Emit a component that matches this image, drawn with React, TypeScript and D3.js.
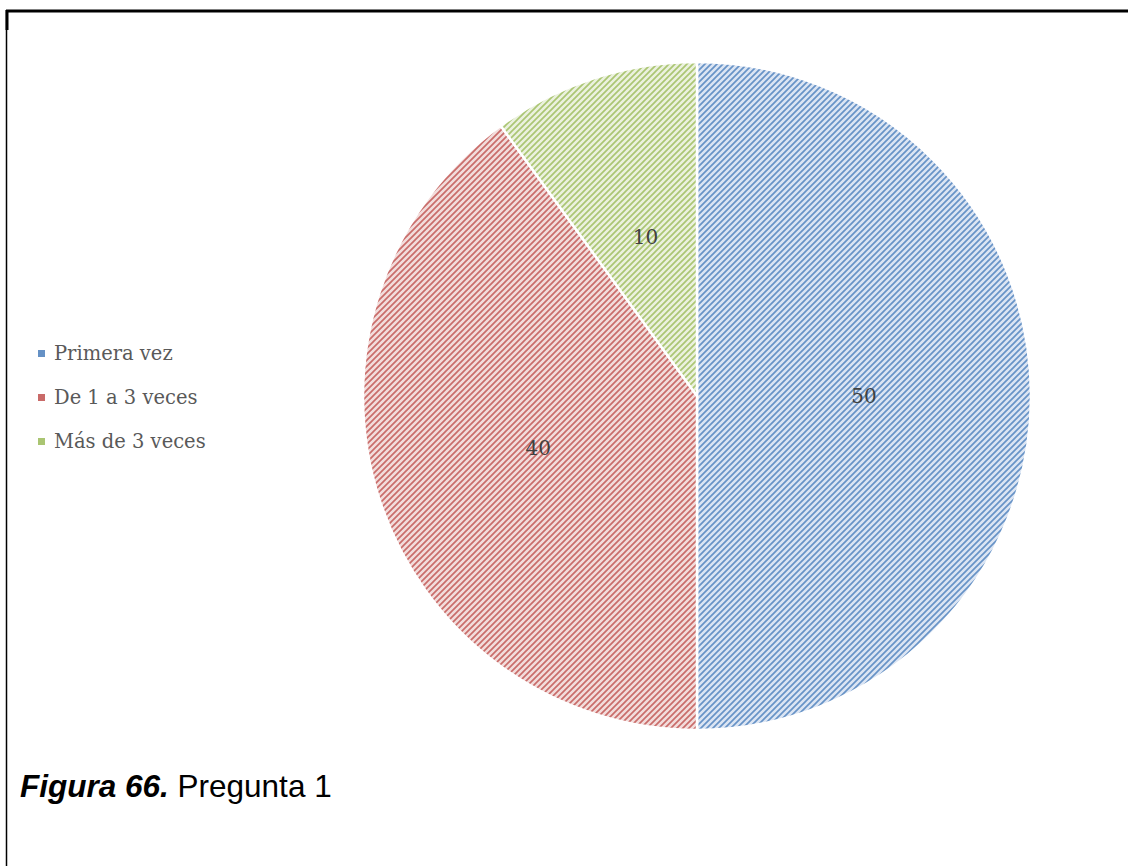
import React from "react";
import * as d3 from "d3";

const categories = ["Primera vez", "De 1 a 3 veces", "Más de 3 veces"];
const values = [50, 40, 10];
const darkColors = ["#4a7ebb", "#c0504d", "#9bbb59"];
const lightColors = ["#dbe5f3", "#f2dcdb", "#ebf1de"];

const W = 1128;
const H = 866;
const cx = 697;
const cy = 396;
const R = 334;

export default function App() {
  const pie = d3.pie<number>().sort(null).value((d) => d)(values);
  const arc = d3.arc<d3.PieArcDatum<number>>().innerRadius(0).outerRadius(R);
  const legendY = d3.scalePoint<string>().domain(categories).range([353, 441]);

  return (
    <svg
      width={W}
      height={H}
      style={{ position: "absolute", left: 0, top: 0, background: "#fff" }}
    >
      <defs>
        {categories.map((c, i) => (
          <pattern
            key={c}
            id={`pat${i}`}
            width={6}
            height={6}
            patternUnits="userSpaceOnUse"
          >
            <rect width={6} height={6} fill={lightColors[i]} />
            <path
              d="M-1,7 L7,-1 M-4,4 L4,-4 M2,10 L10,2"
              stroke={darkColors[i]}
              strokeWidth={1.7}
              opacity={0.8}
            />
          </pattern>
        ))}
      </defs>
      <rect x={0} y={0} width={W} height={H} fill="#fff" />
      {/* border */}
      <line x1={6} y1={11} x2={W} y2={11} stroke="#000" strokeWidth={3} />
      <line x1={7} y1={10} x2={7} y2={30} stroke="#000" strokeWidth={3} />
      <line x1={6.5} y1={10} x2={6.5} y2={H} stroke="#000" strokeWidth={1.5} />

      <g transform={`translate(${cx},${cy})`}>
        {pie.map((d, i) => (
          <path
            key={i}
            d={arc(d) || ""}
            fill={`url(#pat${i})`}
            stroke="#fff"
            strokeWidth={2.5}
          />
        ))}
        {pie.map((d, i) => {
          const [x, y] = arc.centroid(d);
          return (
            <text
              key={"l" + i}
              x={x}
              y={y}
              dy="0.35em"
              textAnchor="middle"
              fontFamily="'DejaVu Serif', serif"
              fontSize={20}
              fill="#404040"
            >
              {d.data}
            </text>
          );
        })}
      </g>

      {categories.map((c, i) => {
        const y = legendY(c) as number;
        return (
          <g key={"lg" + i}>
            <rect
              x={38}
              y={y - 3}
              width={7}
              height={7}
              fill={darkColors[i]}
              opacity={0.85}
            />
            <text
              x={54}
              y={y}
              dy="0.35em"
              fontFamily="'DejaVu Serif', serif"
              fontSize={19.5}
              fill="#595959"
            >
              {c}
            </text>
          </g>
        );
      })}

      <text
        x={20}
        y={797}
        fontFamily="'Liberation Sans', Arial, sans-serif"
        fontSize={31.5}
        fill="#000"
      >
        <tspan fontWeight="bold" fontStyle="italic">
          Figura 66.
        </tspan>
        <tspan> Pregunta 1</tspan>
      </text>
    </svg>
  );
}
